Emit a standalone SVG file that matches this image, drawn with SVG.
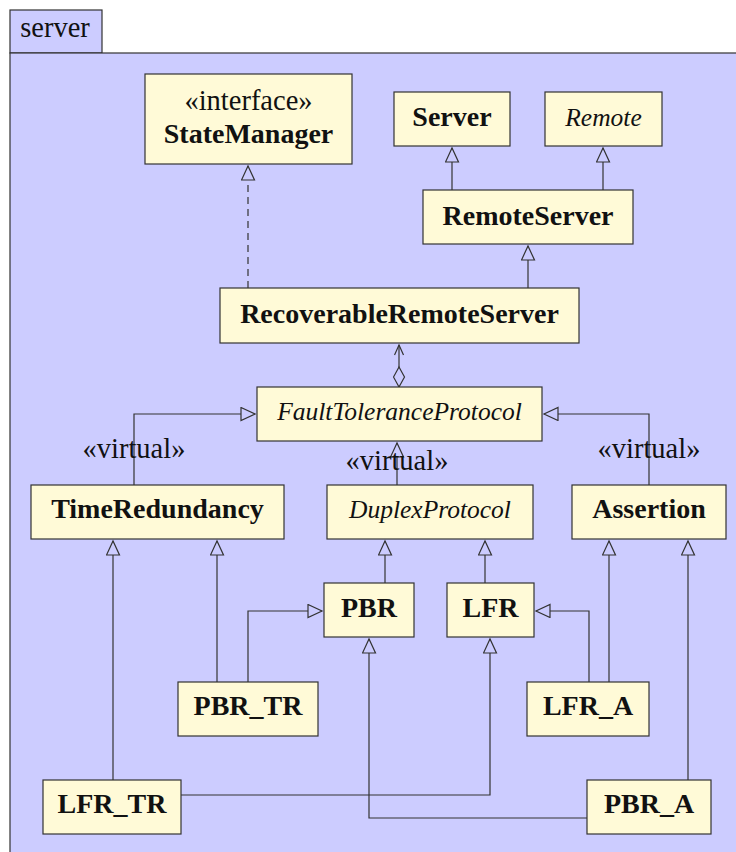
<svg xmlns="http://www.w3.org/2000/svg" width="736" height="852" viewBox="0 0 736 852">
<style>
.pkg{fill:#ccccff;stroke:#333;stroke-width:1.2}
.box{fill:#fffad7;stroke:#333;stroke-width:1.2}
.t{font-family:"Liberation Serif","Times New Roman",serif;font-size:28.5px;fill:#111;text-anchor:middle}
.b{font-weight:bold;font-size:28px}
.i{font-style:italic;font-size:25.5px}
.c{fill:none;stroke:#333;stroke-width:1.2}
.gen{marker-end:url(#tri)}
.dash{stroke-dasharray:7,5}
</style>
<defs>
<marker id="tri" markerUnits="userSpaceOnUse" markerWidth="18" markerHeight="16" refX="15" refY="7" orient="auto">
<path d="M1,0.5 L15,7 L1,13.5 Z" fill="#ccccff" stroke="#333" stroke-width="1.2"/>
</marker>
<marker id="open" markerUnits="userSpaceOnUse" markerWidth="14" markerHeight="12" refX="11" refY="5.5" orient="auto">
<path d="M1,1 L11,5.5 L1,10" fill="none" stroke="#333" stroke-width="1.2"/>
</marker>
<marker id="dia" markerUnits="userSpaceOnUse" markerWidth="24" markerHeight="14" refX="1" refY="6.5" orient="auto">
<path d="M1,6.5 L11,1 L21,6.5 L11,12 Z" fill="#ccccff" stroke="#333" stroke-width="1.2"/>
</marker>
</defs>
<g id="package">
<rect class="pkg" x="10" y="10" width="92" height="43"/>
<rect class="pkg" x="10" y="53" width="740" height="820"/>
<text class="t" x="55" y="37">server</text>
</g>
<g id="connectors">
<path class="c gen dash" d="M248,288 V166"/>
<path class="c gen" d="M452,190 V148"/>
<path class="c gen" d="M603,190 V148"/>
<path class="c gen" d="M528,288 V246"/>
<path class="c" d="M399,387 V345" marker-start="url(#dia)" marker-end="url(#open)"/>
<path class="c gen" d="M134,485 V414 H255"/>
<path class="c gen" d="M397,485 V443"/>
<path class="c gen" d="M649,485 V414 H544"/>
<path class="c gen" d="M385,583 V541"/>
<path class="c gen" d="M485,583 V541"/>
<path class="c gen" d="M217,682 V541"/>
<path class="c gen" d="M248,682 V611 H322"/>
<path class="c gen" d="M113,780 V541"/>
<path class="c gen" d="M181,795 H490 V639"/>
<path class="c gen" d="M587,818 H369 V639"/>
<path class="c gen" d="M688,780 V541"/>
<path class="c gen" d="M589,682 V611 H536"/>
<path class="c gen" d="M609,682 V541"/>
</g>
<g id="StateManager">
<rect class="box" x="145" y="74" width="207" height="90"/>
<text class="t" x="248.5" y="110">«interface»</text>
<text class="t b" x="248.5" y="143">StateManager</text>
</g>
<g id="Server">
<rect class="box" x="394" y="92" width="116" height="54"/>
<text class="t b" x="452" y="126">Server</text>
</g>
<g id="Remote">
<rect class="box" x="545" y="92" width="117" height="54"/>
<text class="t i" x="603.5" y="126">Remote</text>
</g>
<g id="RemoteServer">
<rect class="box" x="423" y="190" width="210" height="54"/>
<text class="t b" x="528" y="225">RemoteServer</text>
</g>
<g id="RecoverableRemoteServer">
<rect class="box" x="220" y="288" width="359" height="55"/>
<text class="t b" x="399.5" y="323">RecoverableRemoteServer</text>
</g>
<g id="FaultToleranceProtocol">
<rect class="box" x="257" y="387" width="285" height="54"/>
<text class="t i" x="399.5" y="420">FaultToleranceProtocol</text>
</g>
<g id="labels">
<text class="t" x="134" y="458">«virtual»</text>
<text class="t" x="397" y="470">«virtual»</text>
<text class="t" x="649" y="458">«virtual»</text>
</g>
<g id="TimeRedundancy">
<rect class="box" x="31" y="485" width="253" height="54"/>
<text class="t b" x="157.5" y="518">TimeRedundancy</text>
</g>
<g id="DuplexProtocol">
<rect class="box" x="327" y="485" width="206" height="54"/>
<text class="t i" x="430" y="518">DuplexProtocol</text>
</g>
<g id="Assertion">
<rect class="box" x="572" y="485" width="154" height="54"/>
<text class="t b" x="649" y="518">Assertion</text>
</g>
<g id="PBR">
<rect class="box" x="324" y="583" width="90" height="54"/>
<text class="t b" x="369" y="617">PBR</text>
</g>
<g id="LFR">
<rect class="box" x="447" y="583" width="87" height="54"/>
<text class="t b" x="490.5" y="617">LFR</text>
</g>
<g id="PBR_TR">
<rect class="box" x="178" y="682" width="140" height="54"/>
<text class="t b" x="248" y="715">PBR_TR</text>
</g>
<g id="LFR_A">
<rect class="box" x="527" y="682" width="122" height="54"/>
<text class="t b" x="588" y="715">LFR_A</text>
</g>
<g id="LFR_TR">
<rect class="box" x="43" y="780" width="138" height="54"/>
<text class="t b" x="112" y="813">LFR_TR</text>
</g>
<g id="PBR_A">
<rect class="box" x="587" y="780" width="124" height="54"/>
<text class="t b" x="649" y="813">PBR_A</text>
</g>
</svg>
